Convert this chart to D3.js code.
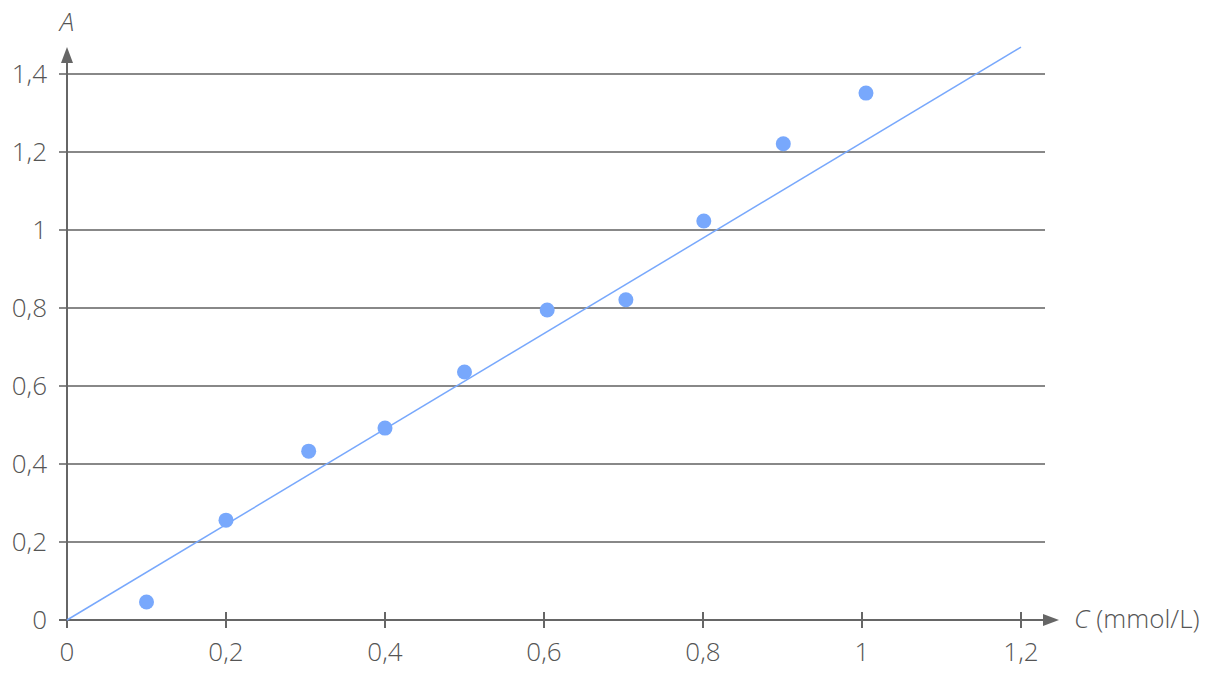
<!DOCTYPE html>
<html>
<head>
<meta charset="utf-8">
<script src="https://cdn.jsdelivr.net/npm/d3@7"></script>
<style>
    body { margin: 0; background: #fff; }
    text { font-family: "Open Sans", Lato, sans-serif; font-weight: 300; fill: #555; }
</style>
</head>
<body>
<svg id="chart" width="1230" height="676"></svg>
<script>
// concentration C (mmol/L) and absorbance A
const concentration = [0.1, 0.2, 0.304, 0.4, 0.5, 0.604, 0.703, 0.801, 0.901, 1.005];
const absorbance = [0.046, 0.256, 0.433, 0.492, 0.636, 0.795, 0.821, 1.023, 1.221, 1.351];
const xTicks = [0, 0.2, 0.4, 0.6, 0.8, 1, 1.2];
const yTicks = [0, 0.2, 0.4, 0.6, 0.8, 1, 1.2, 1.4];
const fitSlope = 1.224; // trend line A = k * C
const fitRange = [0, 1.2];

const svg = d3.select("#chart");
const blue = "#78a8fc",
    gridColor = "#888",
    axisColor = "#666";

const x = d3.scaleLinear().domain([0, 1.2]).range([67, 1021]);
const y = d3.scaleLinear().domain([0, 1.4]).range([620, 74]);

const fmt = d => String(d).replace(".", ",");

// horizontal grid lines
svg.append("g")
    .selectAll("line")
    .data(yTicks)
    .enter().append("line")
    .attr("x1", 59)
    .attr("x2", 1045)
    .attr("y1", d => y(d))
    .attr("y2", d => y(d))
    .attr("stroke", d => d === 0 ? axisColor : gridColor)
    .attr("stroke-width", 2);

// y tick labels
svg.append("g")
    .selectAll("text")
    .data(yTicks)
    .enter().append("text")
    .attr("x", 47)
    .attr("y", d => y(d))
    .attr("dy", "0.36em")
    .attr("text-anchor", "end")
    .style("font-size", "26px")
    .text(fmt);

// x axis ticks
svg.append("g")
    .selectAll("line")
    .data(xTicks.slice(1))
    .enter().append("line")
    .attr("x1", d => x(d))
    .attr("x2", d => x(d))
    .attr("y1", 612)
    .attr("y2", 628)
    .attr("stroke", axisColor)
    .attr("stroke-width", 2);

svg.append("g")
    .selectAll("text")
    .data(xTicks)
    .enter().append("text")
    .attr("x", d => x(d))
    .attr("y", 661)
    .attr("text-anchor", "middle")
    .style("font-size", "26px")
    .text(fmt);

// y axis with arrow
svg.append("line")
    .attr("x1", x(0)).attr("x2", x(0))
    .attr("y1", 628).attr("y2", 58)
    .attr("stroke", axisColor).attr("stroke-width", 2);
svg.append("path")
    .attr("d", "M" + x(0) + ",47 l-6,16 l12,0 z")
    .attr("fill", axisColor);
svg.append("text")
    .attr("x", 67)
    .attr("y", 31)
    .attr("text-anchor", "middle")
    .style("font-size", "26px")
    .style("font-style", "italic")
    .text("A");

// x axis arrow
svg.append("line")
    .attr("x1", 1045).attr("x2", 1050)
    .attr("y1", y(0)).attr("y2", y(0))
    .attr("stroke", axisColor).attr("stroke-width", 2);
svg.append("path")
    .attr("d", "M1059," + y(0) + " l-16,-6 l0,12 z")
    .attr("fill", axisColor);
const xl = svg.append("text")
    .attr("x", 1074)
    .attr("y", 628)
    .style("font-size", "26px");
xl.append("tspan").style("font-style", "italic").text("C");
xl.append("tspan").text(" (mmol/L)");

// trend line
svg.append("line")
    .attr("x1", x(fitRange[0]))
    .attr("y1", y(fitSlope * fitRange[0]))
    .attr("x2", x(fitRange[1]))
    .attr("y2", y(fitSlope * fitRange[1]))
    .attr("stroke", blue)
    .attr("stroke-width", 1.5);

// measured points
svg.append("g")
    .selectAll("circle")
    .data(concentration)
    .enter().append("circle")
    .attr("cx", d => x(d))
    .attr("cy", (d, i) => y(absorbance[i]))
    .attr("r", 7.5)
    .attr("fill", blue);
</script>
</body>
</html>
